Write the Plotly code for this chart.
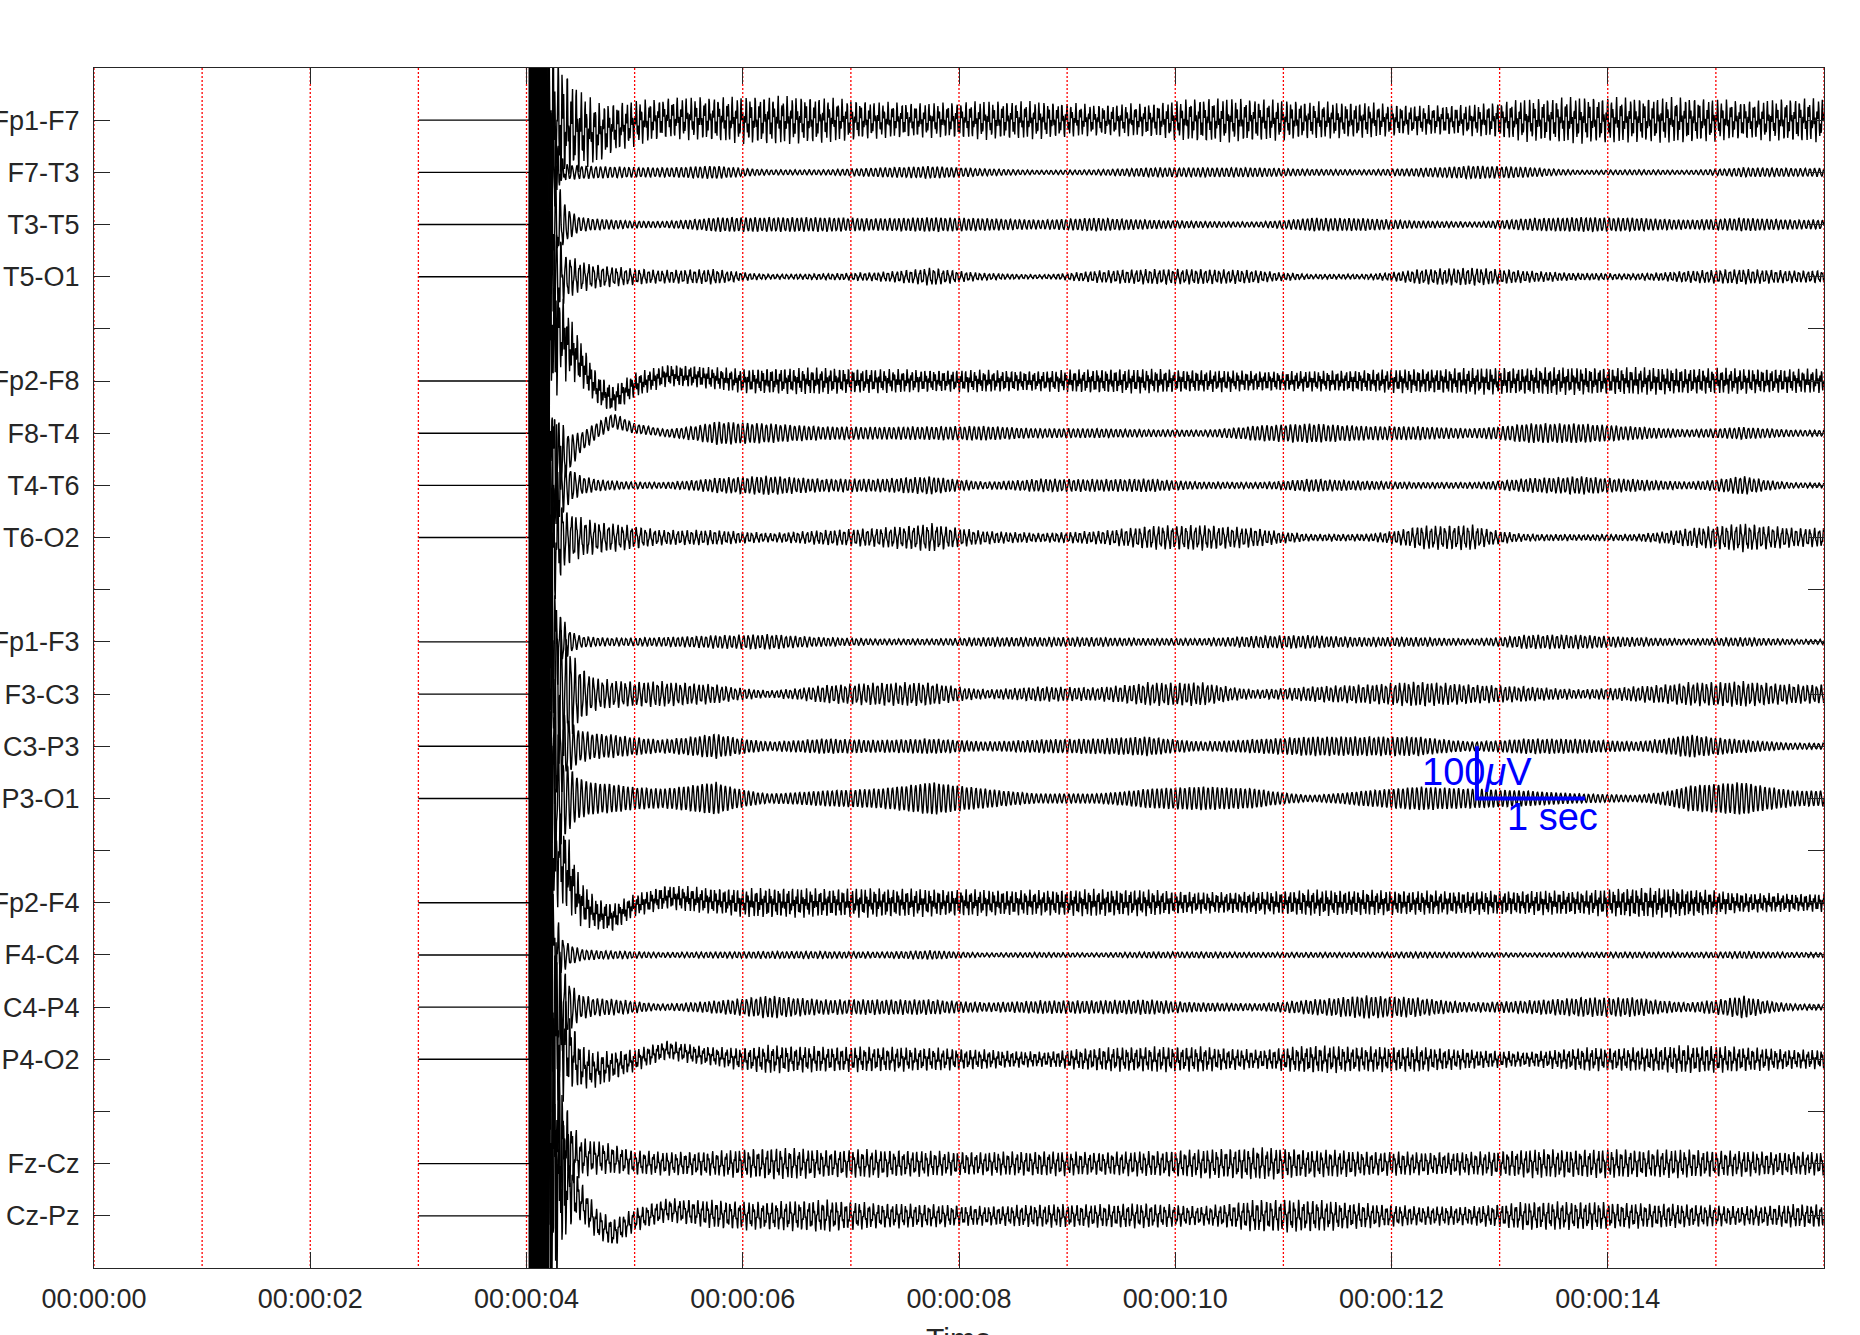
import numpy as np
import plotly.graph_objects as go

# ---------------- data ----------------
CHANNELS = ["Fp1-F7", "F7-T3", "T3-T5", "T5-O1", "Fp2-F8", "F8-T4", "T4-T6", "T6-O2",
            "Fp1-F3", "F3-C3", "C3-P3", "P3-O1", "Fp2-F4", "F4-C4", "C4-P4", "P4-O2",
            "Fz-Cz", "Cz-Pz"]
SLOTS = [1, 2, 3, 4, 6, 7, 8, 9, 11, 12, 13, 14, 16, 17, 18, 19, 21, 22]
Y_TICK_SLOTS = list(range(1, 23))
Y_TICK_TEXT = ["Fp1-F7", "F7-T3", "T3-T5", "T5-O1", "", "Fp2-F8", "F8-T4", "T4-T6", "T6-O2", "",
               "Fp1-F3", "F3-C3", "C3-P3", "P3-O1", "", "Fp2-F4", "F4-C4", "C4-P4", "P4-O2", "",
               "Fz-Cz", "Cz-Pz"]
TIME_TICKS = [0, 2, 4, 6, 8, 10, 12, 14]
TIME_LABELS = ["00:00:00", "00:00:02", "00:00:04", "00:00:06",
               "00:00:08", "00:00:10", "00:00:12", "00:00:14"]
GRID_SECONDS = [0, 1, 2, 3, 4, 5, 6, 7, 8, 9, 10, 11, 12, 13, 14, 15, 16]
X_TITLE = "Time"

FS = 256            # samples per second
T_START = 3.0       # first displayed sample (flat segment)
T_ONSET = 4.03      # start of activity
T_END = 16.0
SPACING_UV = 100    # one channel slot = 100 uV (scale bar)

# saturating onset burst (uV), common to all channels
BURST_KNOTS = [4.03, 4.10, 4.15, 4.19, 4.24, 4.32, 4.40]
BURST_UV = [3000, 2000, 1000, 250, 60, 15, 0]
BURST_HZ = 47.0

# amplitude envelope knots (s) and values (uV)
ONSET_KNOTS = [4.03, 4.10, 4.17]
ONSET_AMP = [2500, 1200, 500]
EARLY_KNOTS = [4.25, 4.35, 4.50, 4.65, 4.80, 5.00]
AMP_EARLY = [
    [160, 110, 80, 60, 50, 45],
    [40, 15, 13, 12, 11, 10],
    [80, 40, 14, 11, 9, 7],
    [100, 50, 30, 24, 20, 16],
    [140, 75, 45, 32, 28, 24],
    [110, 50, 20, 16, 15, 10],
    [120, 50, 20, 12, 9, 7],
    [140, 60, 40, 32, 28, 23],
    [100, 35, 12, 9, 8, 8],
    [220, 120, 55, 32, 27, 25],
    [130, 65, 32, 25, 23, 18],
    [130, 75, 38, 30, 28, 22],
    [170, 90, 45, 32, 28, 22],
    [90, 30, 12, 9, 8, 7],
    [160, 70, 25, 18, 16, 12],
    [180, 100, 45, 35, 30, 22],
    [220, 110, 40, 33, 30, 25],
    [270, 130, 40, 30, 28, 23],
]
LATE_KNOTS = [5.25, 5.75, 6.25, 6.75, 7.25, 7.75, 8.25, 8.75, 9.25, 9.75, 10.25,
              10.75, 11.25, 11.75, 12.25, 12.75, 13.25, 13.75, 14.25, 14.75, 15.25, 15.75]
AMP_LATE = [
    [40, 44, 48, 45, 36, 34, 38, 37, 31, 33, 44, 42, 37, 35, 29, 31, 42, 46, 44, 45, 38, 43],
    [9, 13, 5, 5, 9, 12, 7, 4, 5, 9, 9, 9, 6, 5, 8, 13, 10, 4, 5, 4, 9, 8],
    [6, 14, 14, 14, 12, 14, 12, 9, 13, 9, 6, 5, 13, 12, 7, 5, 12, 14, 13, 9, 13, 9],
    [13, 15, 5, 6, 9, 18, 7, 4, 12, 15, 15, 13, 5, 5, 15, 18, 12, 7, 6, 12, 15, 12],
    [22, 22, 26, 26, 24, 22, 22, 20, 24, 24, 22, 20, 20, 22, 24, 26, 27, 27, 27, 26, 25, 24],
    [7, 23, 19, 13, 12, 13, 14, 9, 9, 7, 6, 15, 19, 14, 13, 9, 19, 19, 13, 7, 12, 6],
    [6, 15, 19, 13, 13, 18, 7, 13, 12, 13, 7, 6, 13, 9, 6, 6, 14, 18, 12, 7, 19, 5],
    [15, 15, 9, 15, 19, 28, 13, 9, 13, 23, 25, 19, 7, 7, 23, 25, 7, 6, 7, 19, 28, 19],
    [9, 13, 15, 9, 6, 6, 9, 9, 9, 7, 7, 12, 13, 9, 9, 6, 14, 14, 9, 6, 9, 5],
    [25, 19, 7, 18, 23, 23, 9, 15, 13, 23, 23, 9, 15, 19, 25, 19, 15, 9, 15, 23, 25, 19],
    [13, 25, 9, 15, 12, 15, 9, 13, 15, 19, 9, 14, 19, 19, 19, 9, 15, 14, 9, 23, 13, 6],
    [19, 32, 9, 15, 19, 32, 19, 9, 9, 19, 23, 19, 6, 15, 23, 19, 15, 9, 6, 25, 32, 15],
    [24, 26, 30, 28, 29, 27, 26, 25, 27, 26, 21, 22, 26, 25, 24, 23, 24, 24, 30, 28, 20, 18],
    [5, 6, 7, 7, 6, 9, 4, 5, 4, 6, 6, 5, 5, 5, 6, 5, 4, 5, 6, 5, 7, 5],
    [6, 13, 23, 15, 15, 15, 9, 13, 13, 15, 9, 7, 15, 23, 19, 9, 13, 19, 19, 9, 23, 6],
    [19, 19, 28, 25, 25, 23, 19, 15, 23, 25, 25, 19, 28, 25, 25, 19, 15, 23, 23, 28, 25, 19],
    [23, 25, 32, 28, 28, 25, 23, 25, 23, 25, 28, 32, 28, 25, 23, 23, 28, 28, 28, 28, 25, 23],
    [23, 28, 28, 32, 25, 23, 19, 23, 23, 25, 19, 32, 32, 25, 19, 19, 28, 28, 25, 23, 19, 23],
]
# slow baseline deflection after onset (uV, positive = up)
BASE_KNOTS = [4.03, 4.20, 4.35, 4.50, 4.65, 4.80, 5.00, 5.30, 5.60, 6.00]
BASE = [
    [0, 0, -10, -20, -25, -15, -6, 4, 3, 0],
    [0, 0, 0, 0, 0, 0, 0, 0, 0, 0],
    [0, 0, 0, 0, 0, 0, 0, 0, 0, 0],
    [0, 0, 0, 0, 0, 0, 0, 0, 0, 0],
    [0, 120, 80, 35, -15, -35, -8, 11, 8, 0],
    [0, -80, -45, -18, 5, 24, 9, 0, 0, 0],
    [0, 0, 0, 0, 0, 0, 0, 0, 0, 0],
    [0, 0, 0, 0, 0, 0, 0, 0, 0, 0],
    [0, 0, 0, 0, 0, 0, 0, 0, 0, 0],
    [0, 0, 0, 0, 0, 0, 0, 0, 0, 0],
    [0, 0, 0, 0, 0, 0, 0, 0, 0, 0],
    [0, 0, 0, 0, 0, 0, 0, 0, 0, 0],
    [0, 120, 70, 0, -22, -28, -5, 11, 5, 0],
    [0, 0, 0, 0, 0, 0, 0, 0, 0, 0],
    [0, 0, 0, 0, 0, 0, 0, 0, 0, 0],
    [0, 60, 30, -14, -20, -12, -2, 18, 8, 0],
    [0, 40, 20, 12, 12, 8, 2, 0, 0, 0],
    [0, 120, 75, 28, -14, -33, -8, 11, 5, 0],
]
FREQ_HZ = [23.6, 22.8, 23.3, 23.5, 23.9, 22.9, 23.2, 23.4, 23.0,
           23.6, 23.1, 23.3, 23.7, 22.7, 23.2, 23.5, 23.8, 23.4]
PHASE = [0.3, 1.9, 4.2, 2.6, 5.1, 0.8, 3.4, 1.2, 4.7, 2.2, 5.6, 0.5, 3.9, 1.6, 4.4, 2.9, 0.1, 5.3]
CORE = [0.45, 0.1, 0.1, 0.25, 0.5, 0.1, 0.15, 0.25, 0.15, 0.2, 0.1, 0.05,
        0.5, 0.15, 0.15, 0.4, 0.35, 0.35]
FAST_HZ = 61.0

# scale bar
SCALE_X0 = 12.79
SCALE_SLOT = 14
SCALE_UV = 100
SCALE_SEC = 1.0

# ---------------- build figure ----------------
FONT = "Liberation Sans, Arial, Helvetica, sans-serif"
AX_COLOR = "#262626"

t = np.arange(int(round(T_START * FS)), int(round(T_END * FS)) + 1) / FS
burst_env = np.interp(t, BURST_KNOTS, BURST_UV, right=0.0)
fig = go.Figure()

for i, ch in enumerate(CHANNELS):
    knots = ONSET_KNOTS + EARLY_KNOTS + LATE_KNOTS
    amps = ONSET_AMP + AMP_EARLY[i] + AMP_LATE[i]
    env = np.exp(np.interp(t, knots, np.log(amps)))
    base = np.interp(t, BASE_KNOTS, BASE[i])
    ph_main = 2 * np.pi * FREQ_HZ[i] * (t - T_ONSET) + PHASE[i]
    ph_fast = 2 * np.pi * FAST_HZ * (t - T_ONSET) + 1.7 * PHASE[i]
    ph_burst = 2 * np.pi * (BURST_HZ + 0.9 * i) * (t - T_ONSET) + 2.3 * PHASE[i]
    sig = (base + env * ((1 - CORE[i]) * np.sin(ph_main) + CORE[i] * np.sin(ph_fast))
           + burst_env * np.sin(ph_burst))
    sig[t < T_ONSET] = 0.0
    y = SLOTS[i] - sig / SPACING_UV
    fig.add_trace(go.Scatter(x=t, y=y, mode="lines", name=ch,
                             line=dict(color="black", width=1.4, simplify=False),
                             hoverinfo="skip", showlegend=False))

# red dotted second lines (drawn on top of the traces)
gx, gy = [], []
for s in GRID_SECONDS:
    gx += [s, s, None]
    gy += [0, 23, None]
fig.add_trace(go.Scatter(x=gx, y=gy, mode="lines",
                         line=dict(color="#FF0000", width=1.3, dash="2px,2px"),
                         hoverinfo="skip", showlegend=False))

# scale bar
fig.add_trace(go.Scatter(
    x=[SCALE_X0, SCALE_X0, SCALE_X0 + SCALE_SEC],
    y=[SCALE_SLOT - SCALE_UV / SPACING_UV, SCALE_SLOT, SCALE_SLOT],
    mode="lines", line=dict(color="#0000FF", width=4),
    hoverinfo="skip", showlegend=False))
fig.add_annotation(x=SCALE_X0, y=SCALE_SLOT - SCALE_UV / SPACING_UV / 2,
                   text=f"{SCALE_UV}<i>μ</i>V", showarrow=False,
                   xanchor="center", yanchor="middle",
                   font=dict(family=FONT, size=38, color="#0000FF"))
fig.add_annotation(x=SCALE_X0 + 0.7 * SCALE_SEC, y=SCALE_SLOT + 0.36,
                   text=f"{SCALE_SEC:g} sec", showarrow=False,
                   xanchor="center", yanchor="middle",
                   font=dict(family=FONT, size=38, color="#0000FF"))

# x-axis title, sitting at the bottom edge of the page as in the reference
fig.add_annotation(x=0.5, xref="paper", y=0, yref="paper", yanchor="top",
                   yshift=-52, text=X_TITLE, showarrow=False,
                   font=dict(family=FONT, size=30, color=AX_COLOR))

fig.update_layout(
    width=1860, height=1335,
    margin=dict(l=94, r=36, t=68, b=67, autoexpand=False),
    paper_bgcolor="white", plot_bgcolor="white",
    font=dict(family=FONT, size=27, color=AX_COLOR),
    xaxis=dict(range=[0, 16], tickvals=TIME_TICKS, ticktext=TIME_LABELS,
               ticks="inside", ticklen=16, tickwidth=1, tickcolor=AX_COLOR,
               showline=True, linecolor=AX_COLOR, linewidth=1, mirror="ticks",
               showgrid=False, zeroline=False, automargin=False,
               tickfont=dict(family=FONT, size=27, color=AX_COLOR),
               ticklabelstandoff=7),
    yaxis=dict(range=[23, 0], tickvals=Y_TICK_SLOTS, ticktext=Y_TICK_TEXT,
               ticks="inside", ticklen=16, tickwidth=1, tickcolor=AX_COLOR,
               showline=True, linecolor=AX_COLOR, linewidth=1, mirror="ticks",
               showgrid=False, zeroline=False, automargin=False,
               tickfont=dict(family=FONT, size=27, color=AX_COLOR),
               ticklabelstandoff=8),
)

fig.write_html("out.html")
